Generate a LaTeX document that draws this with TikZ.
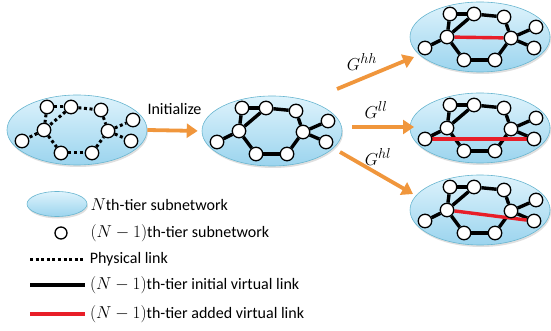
\documentclass[tikz,border=0pt]{standalone}
\usepackage{fontspec}
\setmainfont{Carlito}
\usetikzlibrary{arrows.meta,shapes.geometric,shadows}

\definecolor{nettop}{RGB}{222,243,252}
\definecolor{netbot}{RGB}{155,212,238}
\definecolor{netborder}{RGB}{105,182,208}
\definecolor{arrorange}{RGB}{240,150,60}
\definecolor{linkred}{RGB}{232,30,40}

\pgfdeclarelayer{netlayer}
\pgfdeclarelayer{linklayer}
\pgfsetlayers{netlayer,linklayer,main}

\tikzset{
  subnet/.style={ellipse, draw=netborder, line width=0.6pt, top color=nettop, bottom color=netbot,
    minimum width=140pt, minimum height=70pt, inner sep=0pt,
    drop shadow={opacity=0.25, shadow xshift=1pt, shadow yshift=-2pt}},
  subnode/.style={circle, draw, line width=1.3pt, fill=white, minimum size=13.5pt, inner sep=0pt},
  phys/.style={line width=3pt, dash pattern=on 3pt off 2.6pt},
  vlink/.style={line width=3.4pt},
  addlink/.style={line width=3.4pt, draw=linkred},
  growarrow/.style={draw=arrorange, line width=3.8pt, -{Triangle[length=11pt,width=14pt]}},
}

% one N-th tier subnetwork: name, centre, link style
\newcommand\tiernet[3]{%
  \begin{pgfonlayer}{netlayer}
    \node[subnet] (#1) at (#2) {};
  \end{pgfonlayer}
  \begin{scope}[shift={(#2)}]
    \foreach \n/\x/\y in {1/-30/-23, 2/-6/-23, 3/24/-20, 4/-33/0, 5/-55/11,
                          6/-16/23, 7/15/23, 8/31/1, 9/56/-10, 10/54/11}
      \node[subnode] (#1\n) at (\x,\y) {};
  \end{scope}
  \begin{pgfonlayer}{linklayer}
    \foreach \s/\t in {1/2, 2/3, 1/4, 2/4, 4/5, 4/6, 6/7, 7/8, 3/8, 8/9, 8/10}
      \draw[#3] (#1\s) -- (#1\t);
  \end{pgfonlayer}
}

\begin{document}
\begin{tikzpicture}[x=1pt, y=-1pt, font=\fontsize{16}{19}\selectfont]
  \useasboundingbox (0,0) rectangle (551,331);

  \tiernet{a}{77,130}{phys}
  \tiernet{b}{272,131}{vlink}
  \tiernet{hh}{480,37}{vlink}
  \tiernet{ll}{480,128}{vlink}
  \tiernet{hl}{480,210}{vlink}

  % added virtual links
  \begin{pgfonlayer}{linklayer}
    \draw[addlink] (hh4) -- (hh8);
    \draw[addlink] (ll5) -- (ll10);
    \draw[addlink] (hl4) -- (hl10);
  \end{pgfonlayer}

  \draw[growarrow, shorten >=4pt] (a.east) -- (b.west) node[midway, above=11pt] (init) {Initialize};

  \coordinate (hhtail) at (337,89);  \coordinate (hhtip) at (414,57);
  \coordinate (lltail) at (352,127); \coordinate (lltip) at (414,127);
  \coordinate (hltail) at (340,152); \coordinate (hltip) at (413,194);
  \draw[growarrow] (hhtail) -- (hhtip);
  \draw[growarrow] (lltail) -- (lltip);
  \draw[growarrow] (hltail) -- (hltip);
  \node[font=\fontsize{19}{22}\selectfont] (ghh) at (362,62) {$G^{hh}$};
  \node[font=\fontsize{19}{22}\selectfont] (gll) at (376,110) {$G^{ll}$};
  \node[font=\fontsize{19}{22}\selectfont] (ghl) at (378,157) {$G^{hl}$};

  % legend
  \node[subnet, minimum width=60pt, minimum height=25pt] (keynet) at (57,204) {};
  \node[anchor=west] (keynettext) at (87,205) {$N$th-tier subnetwork};
  \node[subnode, minimum size=12pt] (keynode) at (61,233) {};
  \node[anchor=west] (keynodetext) at (87,233) {$(N-1)$th-tier subnetwork};
  \draw[phys] (30,259) -- (85,259) node[anchor=west] (keyphys) {Physical link};
  \draw[vlink] (30,285) -- (85,285) node[anchor=west] (keyinit) {$(N-1)$th-tier initial virtual link};
  \draw[addlink] (30,314) -- (85,314) node[anchor=west] (keyadd) {$(N-1)$th-tier added virtual link};
\end{tikzpicture}
\end{document}
